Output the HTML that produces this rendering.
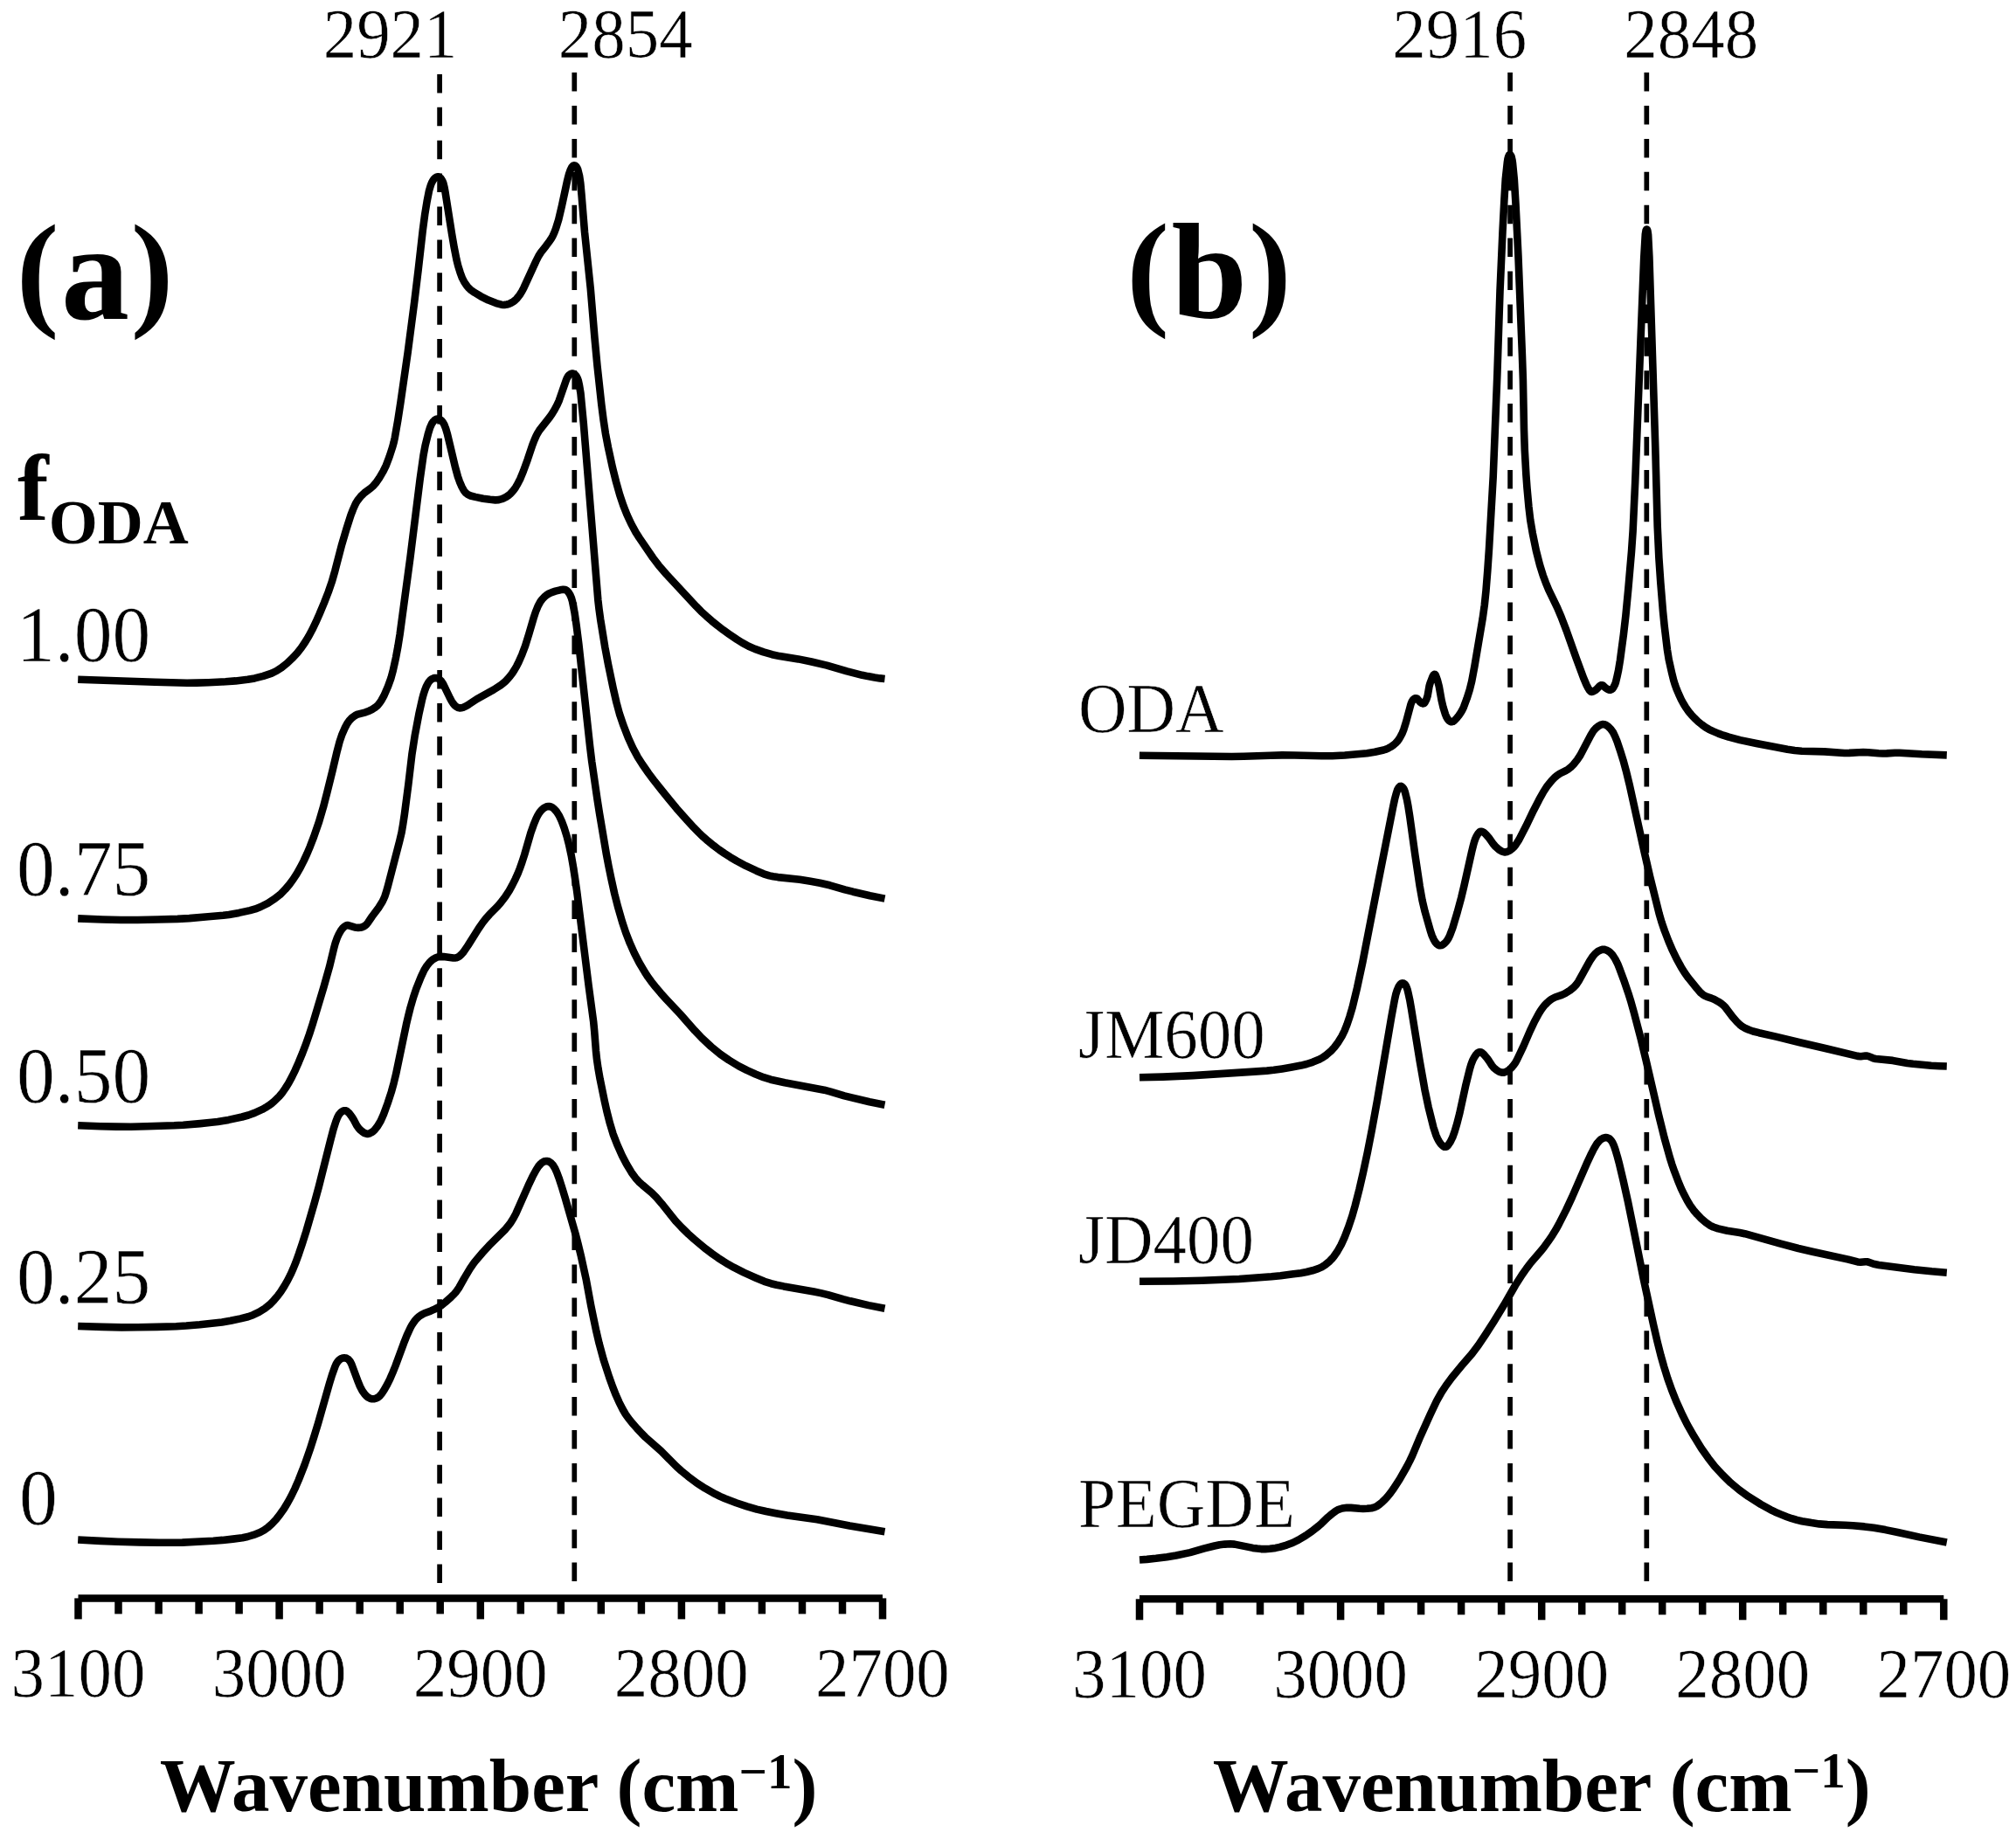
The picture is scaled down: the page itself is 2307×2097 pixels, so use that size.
<!DOCTYPE html>
<html><head><meta charset="utf-8"><title>FTIR spectra</title>
<style>
html,body{margin:0;padding:0;background:#fff;}
svg{display:block;filter:blur(0.7px);}
text{font-family:"Liberation Serif",serif;fill:#000;stroke:#fff;stroke-width:0.6;}
.b{stroke:none;}
.b{font-weight:bold;}
.c{fill:none;stroke:#000;stroke-width:8.6;stroke-linejoin:round;stroke-linecap:butt;}
</style></head><body>
<svg width="2307" height="2097" viewBox="0 0 2307 2097">
<rect width="2307" height="2097" fill="#fff"/>
<line x1="503.1" y1="84.9" x2="503.1" y2="1813" stroke="#000" stroke-width="5.7" stroke-dasharray="21.5 16.4"/>
<line x1="657.3" y1="83.1" x2="657.3" y2="1813" stroke="#000" stroke-width="5.7" stroke-dasharray="21.5 16.4"/>
<line x1="1728.1" y1="83.1" x2="1728.1" y2="1813" stroke="#000" stroke-width="5.7" stroke-dasharray="21.5 16.4"/>
<line x1="1884.3" y1="83.1" x2="1884.3" y2="1813" stroke="#000" stroke-width="5.7" stroke-dasharray="21.5 16.4"/>
<path class="c" d="M89.2,777.8 177.2,780.8 214.1,781.7 225.1,781.6 238.6,781.2 258.1,780.3 269.6,779.4 283.5,777.8 291.4,776.4 301.3,773.9 311.0,770.6 316.3,768.0 322.3,764.1 328.7,759.0 335.1,752.9 340.2,747.3 344.9,741.3 349.2,735.0 353.3,728.3 357.3,720.8 361.2,712.7 365.3,703.5 370.9,690.1 375.8,677.5 379.7,666.2 383.4,653.2 391.2,623.2 396.5,605.3 401.4,589.9 403.9,583.4 406.2,578.1 407.5,575.5 409.1,573.0 412.9,568.2 417.2,564.0 424.1,558.9 426.7,556.6 430.0,552.9 433.8,547.6 438.6,539.4 441.9,532.6 445.6,522.8 449.0,512.3 450.6,506.5 451.8,501.1 455.3,481.0 458.5,460.2 466.6,403.8 474.2,345.8 478.7,308.5 483.7,264.3 486.2,245.4 488.6,230.6 491.0,218.4 492.9,212.0 494.0,209.2 495.2,206.9 496.7,204.8 498.2,203.4 499.8,202.5 501.6,202.3 503.2,203.1 504.7,204.5 506.1,206.7 507.3,209.5 508.5,214.3 509.6,220.3 517.0,267.4 519.8,283.7 522.4,296.9 524.2,304.2 526.6,311.9 529.0,318.4 531.3,322.9 534.5,327.5 536.4,329.7 538.2,331.4 543.1,334.9 550.4,339.3 558.9,343.6 567.8,347.1 573.7,348.7 576.1,349.0 578.1,348.9 580.0,348.5 582.5,347.8 585.3,346.5 587.4,345.3 589.4,343.8 591.2,342.0 594.7,337.6 597.1,333.8 599.4,329.4 613.4,298.9 616.3,293.1 619.0,288.9 624.6,281.8 629.1,275.7 631.0,272.8 632.7,269.8 634.3,266.2 636.1,261.5 639.2,251.4 642.9,235.8 649.2,206.5 651.1,199.2 652.6,194.9 654.2,191.6 655.8,189.7 656.5,189.4 657.2,189.3 658.3,189.6 659.3,190.5 660.5,192.3 661.3,194.2 663.0,201.0 664.3,209.6 665.5,222.6 669.0,265.4 675.8,330.6 680.5,386.9 683.5,418.8 688.3,463.0 690.6,480.9 692.9,496.2 695.9,511.9 701.1,535.8 705.0,551.4 709.2,566.3 713.3,578.6 717.5,589.3 722.4,599.8 727.6,609.4 731.4,615.3 747.2,638.5 753.8,647.2 762.6,657.4 796.7,694.1 802.3,699.8 808.2,705.2 814.6,710.8 821.2,716.2 827.6,721.1 834.5,726.0 843.2,731.9 849.6,735.9 856.7,739.7 863.9,742.9 873.8,746.4 883.5,749.2 892.2,751.1 913.5,754.4 928.7,757.5 946.2,761.6 969.3,768.3 986.7,772.8 993.1,774.1 1000.9,775.5 1006.9,776.4 1012.5,777.0"/>
<path class="c" d="M89.2,1051.4 117.2,1052.5 138.2,1053.0 157.7,1053.0 180.7,1052.5 203.2,1051.9 216.7,1051.1 238.1,1049.3 255.5,1047.7 262.0,1046.9 273.4,1044.9 286.1,1042.1 292.2,1040.4 298.3,1038.0 306.6,1033.8 314.5,1028.7 320.6,1023.9 326.3,1018.1 331.0,1012.6 335.5,1006.5 339.5,1000.3 343.7,993.0 347.6,985.4 351.4,977.1 354.9,968.8 359.2,957.6 365.1,940.5 370.0,923.8 374.5,906.4 380.5,882.1 385.7,860.1 388.6,849.0 391.5,840.4 395.0,832.6 397.3,828.3 399.6,825.0 402.4,822.0 405.2,819.8 407.3,818.5 409.5,817.6 418.3,815.3 422.5,813.7 425.7,812.1 428.7,810.2 431.1,808.4 432.8,806.7 434.6,804.4 436.3,801.9 439.5,796.1 444.1,785.5 447.5,776.0 449.8,767.4 453.1,752.3 455.5,739.4 457.6,726.1 469.5,637.9 480.7,548.1 484.5,521.4 486.6,510.0 490.1,495.9 492.0,489.7 494.1,485.0 495.8,482.5 497.7,480.7 499.4,479.7 501.2,479.4 503.0,479.9 505.1,481.3 506.8,483.3 508.3,485.9 510.1,490.5 512.1,497.4 520.9,534.5 523.9,545.5 525.9,551.2 528.5,557.2 530.7,561.3 532.9,564.1 535.5,566.1 538.6,567.5 544.0,568.9 552.9,570.7 560.8,571.8 566.8,572.4 570.8,572.1 574.2,571.2 577.0,570.0 579.6,568.6 581.7,567.2 584.0,565.2 586.1,563.0 588.0,560.7 590.0,557.9 592.1,554.4 595.5,547.7 598.9,539.4 603.7,526.2 609.4,509.1 611.6,503.5 613.8,498.5 615.5,495.4 617.3,492.5 629.1,477.5 631.7,473.8 634.6,469.1 637.4,463.8 639.8,458.4 647.6,435.9 648.9,432.7 650.2,430.5 651.6,429.0 653.3,427.9 655.0,427.5 656.7,427.9 658.3,429.0 659.6,430.7 660.8,433.0 661.8,435.8 662.9,440.7 664.5,450.3 667.8,484.6 684.3,686.4 685.5,696.9 687.1,708.7 692.3,740.8 695.9,760.0 701.6,787.4 705.4,804.0 708.9,817.0 713.4,830.3 718.8,844.3 724.0,855.7 729.9,866.7 735.0,874.7 742.1,885.0 747.8,892.6 756.8,904.0 765.9,915.3 774.2,925.3 785.8,938.4 794.0,947.3 799.6,953.0 804.6,957.8 810.2,962.7 816.5,967.8 822.9,972.6 829.1,976.9 835.8,981.2 843.1,985.5 853.7,991.2 865.5,996.7 873.9,1000.3 880.5,1002.4 884.8,1003.3 890.2,1004.1 915.2,1006.8 927.5,1008.8 938.4,1010.7 949.5,1013.3 966.8,1018.3 976.0,1020.7 995.5,1025.2 1012.5,1028.6"/>
<path class="c" d="M89.2,1288.3 114.7,1289.2 133.2,1289.6 149.7,1289.7 168.2,1289.3 199.2,1288.3 209.7,1287.7 229.1,1286.1 242.0,1284.8 249.0,1284.0 261.4,1281.9 277.0,1278.5 284.2,1276.5 291.4,1273.9 300.1,1269.9 303.9,1267.8 307.2,1265.7 310.5,1263.4 313.6,1260.8 319.5,1255.0 323.3,1250.4 326.6,1245.6 330.3,1239.7 334.1,1232.6 337.9,1224.8 341.9,1215.7 346.1,1205.5 350.0,1195.2 354.0,1183.9 358.0,1171.5 370.5,1129.8 377.0,1106.7 381.8,1086.7 383.7,1079.5 385.7,1073.8 388.0,1068.8 390.1,1065.2 392.4,1062.2 394.4,1060.4 396.4,1059.3 397.7,1059.1 399.1,1059.3 405.9,1061.4 410.0,1061.9 412.6,1061.7 414.4,1061.3 416.1,1060.6 418.0,1059.4 419.4,1058.1 421.0,1056.1 425.8,1049.0 433.6,1038.6 437.8,1031.7 439.1,1029.0 440.4,1025.8 442.1,1020.6 444.0,1013.8 457.3,962.5 459.6,952.8 461.2,943.4 462.9,932.0 467.3,898.3 471.4,863.5 474.6,842.8 479.4,817.2 483.2,800.1 484.6,794.8 486.0,790.5 487.6,786.2 489.4,782.7 490.7,780.6 492.4,778.7 494.0,777.4 495.8,776.5 497.7,776.0 499.2,776.1 501.1,776.6 502.8,777.6 505.0,779.7 507.0,782.6 514.9,799.0 516.8,802.5 518.4,805.0 520.3,807.4 522.3,809.0 524.5,810.1 526.4,810.4 527.9,810.3 529.8,809.9 533.5,808.2 536.5,806.3 545.6,800.2 564.9,789.5 572.1,784.9 575.3,782.6 578.3,780.0 581.1,777.1 583.7,774.0 586.4,770.4 588.8,766.6 591.3,762.3 593.6,757.8 597.4,749.1 601.1,739.3 605.5,725.0 610.4,708.2 612.9,700.5 615.7,693.6 618.4,688.7 620.5,685.9 622.9,683.3 625.1,681.4 628.1,679.5 631.3,678.1 635.6,676.7 641.0,675.3 644.5,674.8 646.9,675.1 649.0,676.3 650.7,678.2 652.3,680.8 653.9,684.5 655.0,688.4 657.5,701.2 659.6,715.5 662.4,737.9 675.1,854.2 677.2,871.5 683.6,915.6 685.9,930.4 693.8,977.2 696.5,991.5 699.3,1005.2 703.3,1023.3 707.0,1037.8 712.0,1055.1 716.1,1067.5 721.0,1080.1 725.9,1091.0 731.4,1101.7 738.0,1112.9 741.5,1118.3 745.3,1123.6 750.0,1129.5 756.2,1136.8 762.5,1143.8 778.3,1160.6 795.2,1179.8 803.1,1188.1 813.7,1198.0 824.2,1206.6 834.0,1213.4 845.5,1220.4 854.9,1225.2 864.5,1229.5 873.8,1233.2 881.9,1235.7 898.0,1239.3 943.2,1247.7 950.5,1249.6 966.3,1254.3 974.6,1256.4 995.0,1261.2 1012.5,1264.7"/>
<path class="c" d="M89.2,1518.0 117.2,1518.9 139.2,1519.4 157.7,1519.3 179.7,1518.9 201.7,1518.2 213.2,1517.5 228.6,1516.2 254.0,1513.4 263.9,1511.8 275.2,1509.4 283.8,1507.3 289.5,1505.2 296.4,1501.8 303.2,1497.6 308.5,1493.4 313.4,1488.4 317.8,1483.3 321.7,1477.9 325.4,1472.1 329.1,1465.7 332.5,1458.9 335.6,1452.0 338.6,1444.6 342.0,1435.2 345.8,1423.8 350.2,1410.0 359.7,1377.3 364.8,1358.5 378.1,1305.6 381.5,1292.6 384.5,1283.3 386.0,1279.5 387.3,1276.9 388.4,1275.2 389.7,1273.7 390.9,1272.6 392.2,1271.8 393.6,1271.3 394.9,1271.2 395.8,1271.3 397.0,1271.9 399.3,1273.9 402.5,1278.1 404.4,1281.1 408.2,1288.3 410.5,1291.5 412.6,1293.7 414.7,1295.4 416.9,1296.9 418.7,1297.6 420.5,1297.9 421.9,1297.7 423.2,1297.3 425.0,1296.3 426.8,1295.1 428.7,1293.3 432.1,1289.0 435.7,1283.0 439.0,1275.5 443.6,1262.9 447.8,1250.0 450.6,1239.8 453.1,1229.6 464.9,1172.8 467.2,1163.1 469.6,1153.4 473.1,1141.4 476.3,1131.9 481.7,1118.4 485.5,1110.2 488.4,1105.6 491.6,1101.6 493.4,1099.9 495.3,1098.3 499.3,1096.0 502.2,1095.1 504.6,1094.9 507.6,1095.1 518.6,1096.5 520.6,1096.5 522.0,1096.3 523.9,1095.7 526.0,1094.3 528.2,1092.3 530.5,1089.6 535.6,1082.1 547.6,1063.0 552.7,1055.6 555.8,1051.7 560.1,1046.8 569.6,1037.2 572.9,1033.4 578.1,1026.7 582.7,1019.6 586.1,1013.4 589.9,1005.8 592.6,999.9 594.8,994.3 597.3,987.3 600.2,978.2 607.4,953.2 610.6,944.2 613.6,936.9 615.2,933.7 617.0,930.6 618.5,928.6 620.1,926.8 622.1,925.2 623.8,924.1 625.7,923.3 627.6,923.0 629.1,923.1 630.9,923.7 632.2,924.4 633.8,925.6 636.9,929.0 639.9,933.7 642.8,940.0 645.6,947.6 649.0,958.6 651.3,967.8 653.7,979.0 655.8,990.9 658.0,1005.2 660.2,1020.5 673.7,1128.7 679.2,1169.8 680.2,1180.3 682.0,1203.2 683.0,1212.7 684.5,1223.0 686.6,1234.9 691.8,1260.4 694.3,1271.6 698.0,1286.1 701.6,1298.1 706.1,1309.8 712.0,1323.0 717.1,1332.8 722.6,1341.9 727.2,1348.3 731.1,1352.7 735.2,1356.4 746.0,1365.5 751.0,1370.5 757.2,1377.7 768.7,1392.2 773.8,1398.4 779.9,1404.9 787.8,1412.6 794.1,1418.3 800.6,1423.8 808.0,1429.8 815.2,1435.2 821.7,1439.8 827.6,1443.7 833.1,1447.1 839.6,1450.7 851.3,1456.6 865.0,1462.7 874.7,1466.8 882.3,1469.2 888.6,1470.7 896.9,1472.4 931.4,1478.5 939.3,1480.1 947.5,1482.1 964.8,1487.1 973.1,1489.3 994.0,1494.1 1012.5,1497.8"/>
<path class="c" d="M89.2,1762.5 115.2,1763.9 135.1,1764.8 159.6,1765.4 182.1,1765.8 198.6,1765.8 208.6,1765.6 244.1,1763.8 254.6,1762.9 266.6,1761.6 277.4,1760.2 283.3,1759.0 290.2,1756.9 297.6,1754.0 302.2,1751.5 306.7,1748.3 311.3,1744.1 316.2,1738.9 320.7,1733.1 325.0,1727.0 329.2,1720.0 333.3,1712.5 337.4,1704.0 341.6,1694.4 348.6,1676.6 354.7,1659.2 359.4,1644.4 364.1,1629.1 376.9,1583.9 380.0,1573.8 383.4,1564.2 384.8,1561.1 386.4,1558.6 387.7,1557.1 389.3,1555.8 391.1,1554.8 392.5,1554.4 394.0,1554.2 395.4,1554.4 396.8,1554.9 398.5,1555.9 400.5,1558.1 402.3,1561.5 410.1,1582.4 412.0,1587.0 414.6,1591.9 417.5,1596.0 419.6,1598.2 421.6,1599.7 423.9,1600.8 425.8,1601.3 427.8,1601.3 430.2,1600.7 432.4,1599.6 434.3,1598.1 437.0,1595.0 439.8,1590.7 443.2,1584.6 446.3,1578.3 449.3,1571.4 452.5,1563.5 462.0,1537.7 465.7,1528.4 469.7,1519.8 471.6,1516.3 473.6,1513.3 475.4,1510.9 477.4,1508.8 479.7,1506.8 482.2,1505.1 485.7,1503.3 493.2,1500.4 497.8,1498.3 501.8,1496.3 505.2,1494.1 509.1,1491.0 516.2,1484.7 519.5,1481.5 521.8,1478.9 525.4,1473.7 531.3,1463.1 538.0,1451.9 540.8,1447.8 543.4,1444.2 552.2,1433.9 559.6,1425.8 578.4,1407.1 581.3,1403.6 584.3,1399.6 587.5,1394.5 590.3,1389.3 604.5,1357.2 609.4,1346.8 613.5,1339.3 616.2,1335.0 618.9,1332.0 620.5,1330.7 622.2,1329.7 623.7,1329.2 625.1,1329.0 626.5,1329.1 627.9,1329.5 630.5,1331.1 632.9,1333.7 635.2,1337.5 637.3,1342.2 639.6,1348.4 642.8,1358.3 646.6,1370.8 658.5,1412.2 661.4,1423.3 664.7,1436.9 670.6,1463.8 676.3,1494.7 679.2,1508.9 682.4,1524.1 685.6,1537.7 690.6,1556.1 697.2,1576.5 701.1,1587.4 704.8,1596.8 708.5,1605.1 712.5,1613.0 715.7,1618.5 719.1,1623.4 723.5,1628.9 728.9,1635.0 734.4,1640.9 738.6,1645.1 756.6,1661.0 774.2,1678.8 779.8,1683.7 787.2,1689.8 797.2,1697.4 806.8,1703.6 818.6,1710.2 824.0,1712.9 829.5,1715.3 842.5,1720.2 854.9,1724.4 866.0,1727.6 876.7,1730.0 888.0,1732.2 900.8,1734.4 935.0,1739.3 972.3,1746.5 1012.5,1753.3"/>
<path class="c" d="M1303.9,864.7 1409.4,866.0 1423.4,865.8 1453.9,864.7 1467.4,864.4 1481.4,864.5 1512.4,865.2 1524.4,865.3 1538.9,864.5 1564.3,862.2 1573.3,860.8 1583.4,858.5 1586.2,857.6 1589.0,856.3 1591.8,854.8 1594.7,852.7 1597.0,850.8 1598.9,848.8 1600.7,846.4 1602.3,843.8 1604.7,839.2 1606.5,834.6 1609.0,826.5 1614.5,806.0 1615.6,803.2 1617.1,801.0 1618.3,799.9 1619.1,799.4 1619.9,799.2 1620.7,799.2 1622.2,800.2 1625.4,803.9 1627.2,805.0 1628.5,805.4 1629.3,805.2 1630.0,804.8 1630.8,803.7 1632.3,800.7 1633.6,796.7 1635.6,785.3 1636.7,781.5 1639.5,774.4 1640.5,772.6 1641.5,771.8 1642.2,772.0 1643.0,773.2 1645.0,778.7 1646.8,785.8 1649.6,801.5 1651.6,809.9 1654.0,817.6 1655.3,820.8 1656.6,823.0 1658.0,824.7 1659.6,825.9 1660.9,826.3 1662.6,825.9 1664.7,824.4 1666.9,822.1 1669.5,818.9 1671.7,815.6 1673.5,812.5 1675.0,809.3 1678.6,799.6 1681.8,789.5 1684.2,779.7 1687.5,762.1 1696.6,708.3 1698.8,692.5 1700.5,676.0 1702.3,653.1 1704.0,628.2 1708.7,545.8 1713.4,427.4 1716.5,333.4 1719.5,265.0 1721.4,228.5 1722.8,204.6 1724.8,186.2 1725.4,182.2 1726.2,179.2 1727.0,177.4 1727.8,176.9 1728.6,177.4 1729.5,179.1 1730.4,182.7 1731.0,186.7 1732.8,205.1 1734.5,233.5 1737.4,292.0 1741.9,405.9 1742.9,434.9 1744.0,491.8 1744.8,515.3 1746.4,543.8 1747.5,558.8 1749.4,579.7 1751.2,595.0 1753.8,610.3 1757.9,630.4 1762.1,646.9 1765.7,658.4 1768.8,666.8 1772.2,675.2 1782.2,695.9 1786.5,706.0 1792.4,721.4 1803.6,753.0 1812.1,776.0 1815.4,783.8 1817.3,787.5 1818.8,789.9 1819.8,791.1 1820.9,791.8 1821.7,791.9 1822.9,791.6 1826.1,789.7 1827.7,788.3 1830.8,785.1 1831.9,784.4 1832.6,784.2 1833.4,784.3 1834.2,784.6 1837.4,787.4 1838.7,788.4 1840.2,789.1 1841.6,789.6 1842.9,789.6 1844.1,789.2 1845.2,788.3 1846.5,786.6 1847.8,784.1 1848.9,781.2 1850.5,774.5 1852.1,767.1 1853.9,756.1 1857.9,726.4 1860.4,704.5 1863.4,673.2 1867.0,631.3 1868.6,607.9 1871.2,551.9 1877.4,391.6 1881.2,295.6 1882.8,268.2 1883.6,263.6 1884.1,262.6 1884.5,262.5 1884.9,262.9 1885.4,264.1 1886.1,268.7 1887.4,294.2 1894.3,512.6 1896.7,602.6 1898.4,639.0 1900.3,666.9 1903.0,699.8 1904.7,716.8 1907.9,743.6 1909.7,754.9 1913.1,770.1 1915.1,778.3 1916.7,783.6 1918.6,788.8 1921.0,794.4 1923.9,800.7 1926.5,805.5 1929.1,809.8 1932.4,814.4 1935.6,818.3 1939.2,822.2 1943.2,826.0 1947.6,829.5 1951.7,832.5 1955.6,834.8 1960.0,836.9 1966.4,839.6 1972.1,841.7 1978.3,843.7 1991.4,847.1 2010.0,851.0 2045.4,857.8 2053.8,859.0 2061.8,859.7 2087.8,860.4 2110.7,862.0 2116.2,861.9 2127.2,861.2 2132.2,861.0 2137.7,861.2 2149.7,862.2 2154.7,862.5 2159.1,862.4 2168.6,861.7 2173.6,861.7 2199.1,863.3 2227.8,864.4"/>
<path class="c" d="M1304.0,1233.3 1331.0,1232.6 1365.0,1231.1 1435.3,1226.6 1449.8,1225.6 1457.7,1224.8 1467.2,1223.4 1478.5,1221.5 1488.8,1219.6 1495.2,1218.0 1502.0,1215.8 1508.8,1213.1 1513.2,1210.8 1517.8,1207.6 1522.8,1203.3 1527.1,1198.6 1531.6,1192.6 1535.6,1186.0 1538.5,1180.1 1541.4,1172.8 1544.6,1163.3 1547.6,1153.2 1553.1,1130.4 1559.3,1101.5 1576.2,1014.6 1594.2,923.3 1596.1,914.5 1597.7,908.5 1599.3,903.7 1600.8,901.2 1602.1,900.1 1603.2,899.9 1604.7,900.7 1606.0,902.2 1607.0,904.2 1607.9,906.7 1610.0,915.3 1611.5,923.3 1613.3,934.8 1619.4,978.9 1624.7,1014.5 1627.6,1030.7 1630.6,1043.4 1636.9,1065.7 1638.7,1071.0 1640.5,1075.1 1642.5,1078.5 1644.6,1080.8 1645.9,1081.7 1647.2,1082.2 1648.0,1082.3 1649.4,1082.1 1651.1,1081.3 1652.8,1080.1 1654.7,1078.1 1656.3,1076.0 1657.8,1073.5 1659.2,1070.4 1662.3,1062.3 1667.6,1044.5 1672.3,1027.1 1675.3,1014.4 1684.2,974.7 1685.9,967.9 1687.2,963.2 1688.4,959.8 1689.9,956.7 1691.4,954.3 1693.0,952.4 1694.4,951.7 1695.9,951.7 1697.8,952.7 1700.2,954.9 1703.5,958.6 1709.1,966.4 1711.4,969.1 1715.3,972.5 1718.8,974.7 1721.5,975.4 1722.9,975.4 1724.3,975.1 1727.6,973.6 1730.6,971.4 1732.7,969.2 1734.5,967.0 1738.3,961.1 1746.2,945.8 1754.9,927.7 1761.1,915.7 1766.2,906.5 1770.8,899.4 1775.9,893.2 1778.8,890.3 1781.4,888.0 1785.0,885.5 1791.9,882.1 1794.4,880.6 1797.5,878.2 1800.7,875.0 1804.8,869.9 1808.4,864.5 1820.3,841.8 1823.4,836.6 1826.1,833.6 1829.0,831.2 1831.7,829.7 1833.1,829.3 1834.4,829.1 1835.8,829.2 1837.1,829.6 1838.4,830.3 1840.2,831.5 1843.2,834.5 1846.1,838.6 1848.2,843.0 1850.5,848.7 1854.2,859.7 1857.5,870.2 1860.8,882.3 1864.5,897.4 1881.5,974.5 1888.2,1003.8 1898.7,1046.0 1901.5,1055.6 1904.9,1065.5 1909.6,1077.7 1914.1,1088.2 1918.7,1097.7 1923.8,1106.9 1927.7,1113.2 1932.1,1119.4 1941.9,1131.5 1945.9,1136.1 1948.5,1138.3 1951.0,1139.9 1953.2,1140.9 1958.5,1142.6 1961.8,1144.0 1966.2,1146.4 1970.0,1148.9 1972.2,1150.8 1974.3,1152.9 1982.4,1163.7 1987.5,1169.5 1991.1,1173.0 1993.8,1175.1 1997.2,1177.0 2001.3,1178.8 2006.1,1180.5 2012.9,1182.2 2032.4,1186.6 2059.6,1193.3 2089.8,1200.2 2125.8,1208.9 2129.3,1209.2 2134.7,1208.5 2136.6,1208.6 2138.5,1209.1 2143.6,1211.3 2146.4,1212.0 2165.9,1213.9 2182.7,1216.9 2189.1,1217.8 2210.0,1219.7 2219.0,1220.2 2227.8,1220.5"/>
<path class="c" d="M1304.0,1466.7 1343.0,1466.5 1375.5,1465.8 1418.0,1464.0 1454.9,1461.3 1465.3,1460.3 1478.2,1458.6 1488.6,1457.2 1495.1,1456.0 1502.0,1454.3 1508.5,1452.2 1512.5,1450.4 1516.4,1447.9 1521.6,1443.6 1524.0,1441.1 1526.2,1438.5 1530.4,1432.5 1534.7,1424.9 1538.7,1416.1 1543.1,1404.6 1547.3,1392.2 1550.7,1380.1 1555.4,1361.7 1559.9,1342.2 1564.9,1318.8 1569.9,1293.2 1576.1,1259.3 1592.2,1164.6 1596.0,1144.0 1597.3,1138.1 1598.9,1133.1 1600.5,1129.4 1602.2,1126.9 1603.7,1125.7 1604.9,1125.4 1606.1,1125.6 1607.6,1126.6 1608.8,1128.3 1609.7,1130.3 1610.6,1132.7 1611.6,1137.0 1613.2,1144.3 1614.9,1153.9 1624.7,1214.6 1630.5,1247.6 1634.6,1267.2 1640.4,1290.5 1643.4,1299.6 1645.0,1303.3 1646.7,1306.4 1648.6,1309.2 1650.9,1311.5 1652.9,1312.7 1654.4,1312.8 1655.4,1312.4 1656.8,1311.2 1659.4,1307.6 1662.1,1302.2 1664.6,1295.2 1667.2,1286.5 1670.2,1274.8 1677.0,1243.6 1681.8,1224.0 1683.5,1218.3 1685.1,1214.1 1687.2,1210.1 1689.1,1207.2 1690.9,1205.3 1692.7,1204.3 1694.2,1204.2 1696.0,1205.1 1698.3,1207.2 1701.9,1211.5 1704.0,1214.5 1707.3,1219.6 1709.1,1221.9 1712.2,1224.6 1715.8,1226.8 1718.6,1227.6 1720.0,1227.7 1721.4,1227.6 1722.7,1227.1 1724.6,1226.3 1727.6,1224.1 1729.9,1221.9 1732.1,1219.3 1734.1,1216.5 1736.0,1213.0 1743.2,1197.9 1751.0,1179.9 1755.9,1169.5 1760.9,1160.2 1763.2,1156.4 1765.5,1153.2 1768.1,1150.1 1770.6,1147.6 1773.3,1145.2 1775.7,1143.5 1779.6,1141.5 1787.3,1138.9 1791.0,1137.2 1796.6,1133.7 1800.9,1130.2 1803.8,1127.0 1806.3,1123.4 1819.3,1099.9 1822.9,1094.5 1825.5,1091.5 1828.7,1088.9 1832.0,1087.3 1833.4,1086.9 1834.8,1086.8 1836.2,1086.9 1838.1,1087.5 1840.0,1088.4 1842.2,1089.9 1843.7,1091.3 1845.3,1093.1 1848.2,1097.5 1851.0,1102.9 1853.7,1109.7 1858.9,1123.8 1863.4,1137.1 1866.5,1147.1 1870.0,1159.6 1877.6,1188.7 1883.6,1213.4 1898.1,1276.3 1904.6,1302.5 1910.9,1325.1 1913.3,1332.8 1916.1,1340.8 1920.0,1351.1 1923.8,1360.3 1927.3,1367.6 1930.8,1374.3 1934.1,1379.8 1937.9,1385.1 1942.2,1390.1 1946.7,1394.7 1952.0,1399.3 1956.6,1402.6 1960.6,1404.5 1966.2,1406.4 1976.5,1408.8 1990.9,1411.0 1996.7,1412.2 2037.7,1423.6 2058.0,1429.0 2074.1,1432.7 2115.1,1441.6 2125.8,1444.4 2129.2,1444.8 2134.6,1444.2 2136.6,1444.3 2138.5,1444.7 2144.1,1446.8 2150.0,1447.9 2190.7,1453.2 2210.6,1455.3 2227.8,1456.7"/>
<path class="c" d="M1304.0,1785.5 1312.5,1784.9 1322.9,1783.8 1335.3,1782.2 1345.7,1780.5 1361.8,1777.1 1378.2,1772.4 1389.8,1769.5 1395.7,1768.3 1401.7,1767.6 1407.7,1767.3 1412.7,1767.6 1433.8,1771.9 1438.7,1772.6 1443.2,1773.1 1447.7,1773.1 1453.2,1772.7 1459.6,1771.9 1464.5,1770.9 1472.3,1768.6 1479.2,1766.0 1485.9,1762.6 1494.1,1757.7 1501.1,1752.9 1508.6,1747.0 1512.4,1743.7 1519.6,1736.7 1524.2,1732.9 1528.7,1729.5 1531.8,1727.8 1536.0,1726.5 1541.4,1725.8 1546.0,1725.9 1555.9,1726.8 1559.9,1727.0 1564.5,1726.8 1569.5,1726.2 1572.8,1725.4 1575.5,1724.1 1578.4,1722.1 1581.9,1719.2 1584.8,1716.4 1587.8,1713.1 1591.3,1708.7 1594.8,1703.9 1601.6,1693.4 1609.8,1679.0 1613.2,1672.4 1616.2,1666.1 1625.5,1643.9 1636.4,1619.7 1643.9,1603.9 1649.5,1593.9 1654.7,1586.0 1661.5,1576.7 1673.0,1562.8 1684.4,1549.6 1691.9,1539.6 1700.0,1527.5 1709.7,1512.4 1721.2,1493.6 1733.9,1471.5 1741.7,1459.3 1746.9,1451.9 1751.7,1445.5 1762.8,1432.6 1766.6,1428.0 1771.6,1421.1 1776.4,1414.1 1780.1,1408.1 1783.7,1401.6 1792.1,1385.1 1799.1,1370.1 1816.7,1329.8 1821.0,1320.7 1824.2,1314.4 1827.6,1308.8 1830.5,1305.5 1832.4,1303.9 1834.2,1302.9 1836.1,1302.3 1837.6,1302.1 1839.5,1302.3 1841.7,1303.4 1843.8,1305.5 1845.4,1308.1 1846.9,1311.3 1848.5,1316.0 1850.9,1324.1 1853.1,1332.4 1857.5,1350.9 1863.0,1375.8 1870.3,1411.6 1880.8,1464.1 1892.1,1516.4 1896.6,1535.9 1900.6,1551.8 1904.3,1564.8 1908.5,1578.2 1913.0,1590.9 1918.0,1603.5 1925.0,1619.0 1930.8,1630.6 1938.5,1644.1 1946.9,1657.7 1954.7,1668.8 1962.3,1678.6 1971.1,1688.2 1980.5,1697.3 1990.1,1705.2 2000.7,1712.9 2015.1,1722.0 2026.0,1728.1 2031.4,1730.7 2038.3,1733.6 2044.8,1736.2 2050.5,1738.2 2056.3,1739.9 2062.1,1741.2 2072.9,1743.1 2081.9,1744.4 2091.3,1745.1 2111.3,1745.7 2120.3,1746.2 2133.3,1747.4 2144.2,1748.7 2157.5,1751.1 2171.7,1754.0 2196.1,1759.4 2227.8,1765.5"/>
<line x1="89.5" y1="1829.4" x2="1010.0" y2="1829.4" stroke="#000" stroke-width="8.5"/>
<line x1="89.5" y1="1829.4" x2="89.5" y2="1853.4" stroke="#000" stroke-width="8.5"/>
<line x1="135.5" y1="1829.4" x2="135.5" y2="1847.4" stroke="#000" stroke-width="8.5"/>
<line x1="181.6" y1="1829.4" x2="181.6" y2="1847.4" stroke="#000" stroke-width="8.5"/>
<line x1="227.6" y1="1829.4" x2="227.6" y2="1847.4" stroke="#000" stroke-width="8.5"/>
<line x1="273.6" y1="1829.4" x2="273.6" y2="1847.4" stroke="#000" stroke-width="8.5"/>
<line x1="319.6" y1="1829.4" x2="319.6" y2="1853.4" stroke="#000" stroke-width="8.5"/>
<line x1="365.6" y1="1829.4" x2="365.6" y2="1847.4" stroke="#000" stroke-width="8.5"/>
<line x1="411.7" y1="1829.4" x2="411.7" y2="1847.4" stroke="#000" stroke-width="8.5"/>
<line x1="457.7" y1="1829.4" x2="457.7" y2="1847.4" stroke="#000" stroke-width="8.5"/>
<line x1="503.7" y1="1829.4" x2="503.7" y2="1847.4" stroke="#000" stroke-width="8.5"/>
<line x1="549.8" y1="1829.4" x2="549.8" y2="1853.4" stroke="#000" stroke-width="8.5"/>
<line x1="595.8" y1="1829.4" x2="595.8" y2="1847.4" stroke="#000" stroke-width="8.5"/>
<line x1="641.8" y1="1829.4" x2="641.8" y2="1847.4" stroke="#000" stroke-width="8.5"/>
<line x1="687.8" y1="1829.4" x2="687.8" y2="1847.4" stroke="#000" stroke-width="8.5"/>
<line x1="733.9" y1="1829.4" x2="733.9" y2="1847.4" stroke="#000" stroke-width="8.5"/>
<line x1="779.9" y1="1829.4" x2="779.9" y2="1853.4" stroke="#000" stroke-width="8.5"/>
<line x1="825.9" y1="1829.4" x2="825.9" y2="1847.4" stroke="#000" stroke-width="8.5"/>
<line x1="871.9" y1="1829.4" x2="871.9" y2="1847.4" stroke="#000" stroke-width="8.5"/>
<line x1="918.0" y1="1829.4" x2="918.0" y2="1847.4" stroke="#000" stroke-width="8.5"/>
<line x1="964.0" y1="1829.4" x2="964.0" y2="1847.4" stroke="#000" stroke-width="8.5"/>
<line x1="1010.0" y1="1829.4" x2="1010.0" y2="1853.4" stroke="#000" stroke-width="8.5"/>
<line x1="1304.0" y1="1830.3" x2="2224.3" y2="1830.3" stroke="#000" stroke-width="8.5"/>
<line x1="1304.0" y1="1830.3" x2="1304.0" y2="1854.3" stroke="#000" stroke-width="8.5"/>
<line x1="1350.0" y1="1830.3" x2="1350.0" y2="1848.3" stroke="#000" stroke-width="8.5"/>
<line x1="1396.0" y1="1830.3" x2="1396.0" y2="1848.3" stroke="#000" stroke-width="8.5"/>
<line x1="1442.0" y1="1830.3" x2="1442.0" y2="1848.3" stroke="#000" stroke-width="8.5"/>
<line x1="1488.1" y1="1830.3" x2="1488.1" y2="1848.3" stroke="#000" stroke-width="8.5"/>
<line x1="1534.1" y1="1830.3" x2="1534.1" y2="1854.3" stroke="#000" stroke-width="8.5"/>
<line x1="1580.1" y1="1830.3" x2="1580.1" y2="1848.3" stroke="#000" stroke-width="8.5"/>
<line x1="1626.1" y1="1830.3" x2="1626.1" y2="1848.3" stroke="#000" stroke-width="8.5"/>
<line x1="1672.1" y1="1830.3" x2="1672.1" y2="1848.3" stroke="#000" stroke-width="8.5"/>
<line x1="1718.1" y1="1830.3" x2="1718.1" y2="1848.3" stroke="#000" stroke-width="8.5"/>
<line x1="1764.2" y1="1830.3" x2="1764.2" y2="1854.3" stroke="#000" stroke-width="8.5"/>
<line x1="1810.2" y1="1830.3" x2="1810.2" y2="1848.3" stroke="#000" stroke-width="8.5"/>
<line x1="1856.2" y1="1830.3" x2="1856.2" y2="1848.3" stroke="#000" stroke-width="8.5"/>
<line x1="1902.2" y1="1830.3" x2="1902.2" y2="1848.3" stroke="#000" stroke-width="8.5"/>
<line x1="1948.2" y1="1830.3" x2="1948.2" y2="1848.3" stroke="#000" stroke-width="8.5"/>
<line x1="1994.2" y1="1830.3" x2="1994.2" y2="1854.3" stroke="#000" stroke-width="8.5"/>
<line x1="2040.2" y1="1830.3" x2="2040.2" y2="1848.3" stroke="#000" stroke-width="8.5"/>
<line x1="2086.3" y1="1830.3" x2="2086.3" y2="1848.3" stroke="#000" stroke-width="8.5"/>
<line x1="2132.3" y1="1830.3" x2="2132.3" y2="1848.3" stroke="#000" stroke-width="8.5"/>
<line x1="2178.3" y1="1830.3" x2="2178.3" y2="1848.3" stroke="#000" stroke-width="8.5"/>
<line x1="2224.3" y1="1830.3" x2="2224.3" y2="1854.3" stroke="#000" stroke-width="8.5"/>
<text transform="translate(89.5,1942.4) scale(0.968,1)" font-size="79.5" text-anchor="middle" class="">3100</text>
<text transform="translate(1304.0,1943.0) scale(0.968,1)" font-size="79.5" text-anchor="middle" class="">3100</text>
<text transform="translate(319.6,1942.4) scale(0.968,1)" font-size="79.5" text-anchor="middle" class="">3000</text>
<text transform="translate(1534.1,1943.0) scale(0.968,1)" font-size="79.5" text-anchor="middle" class="">3000</text>
<text transform="translate(549.7,1942.4) scale(0.968,1)" font-size="79.5" text-anchor="middle" class="">2900</text>
<text transform="translate(1764.2,1943.0) scale(0.968,1)" font-size="79.5" text-anchor="middle" class="">2900</text>
<text transform="translate(779.8,1942.4) scale(0.968,1)" font-size="79.5" text-anchor="middle" class="">2800</text>
<text transform="translate(1994.3,1943.0) scale(0.968,1)" font-size="79.5" text-anchor="middle" class="">2800</text>
<text transform="translate(1009.9,1942.4) scale(0.968,1)" font-size="79.5" text-anchor="middle" class="">2700</text>
<text transform="translate(2224.4,1943.0) scale(0.968,1)" font-size="79.5" text-anchor="middle" class="">2700</text>
<text transform="translate(446.6,66.2) scale(0.968,1)" font-size="79.5" text-anchor="middle" class="">2921</text>
<text transform="translate(715.7,66.2) scale(0.968,1)" font-size="79.5" text-anchor="middle" class="">2854</text>
<text transform="translate(1670.2,66.2) scale(0.968,1)" font-size="79.5" text-anchor="middle" class="">2916</text>
<text transform="translate(1935.3,66.2) scale(0.968,1)" font-size="79.5" text-anchor="middle" class="">2848</text>
<text transform="translate(19,757.0) scale(0.968,1)" font-size="90.5" text-anchor="start" class="">1.00</text>
<text transform="translate(19,1024.8) scale(0.968,1)" font-size="90.5" text-anchor="start" class="">0.75</text>
<text transform="translate(19,1261.8) scale(0.968,1)" font-size="90.5" text-anchor="start" class="">0.50</text>
<text transform="translate(19,1491.8) scale(0.968,1)" font-size="90.5" text-anchor="start" class="">0.25</text>
<text transform="translate(22,1745.3) scale(0.968,1)" font-size="90.5" text-anchor="start" class="">0</text>
<text transform="translate(1234,838) scale(0.968,1)" font-size="79.5" text-anchor="start" class="">ODA</text>
<text transform="translate(1234,1210.5) scale(0.968,1)" font-size="79.5" text-anchor="start" class="">JM600</text>
<text transform="translate(1234,1446.3) scale(0.968,1)" font-size="79.5" text-anchor="start" class="">JD400</text>
<text transform="translate(1234,1748.2) scale(0.968,1)" font-size="79.5" text-anchor="start" class="">PEGDE</text>
<text class="b" font-size="156"><tspan x="18.70" y="357.6" font-size="146">(</tspan><tspan x="69.95" y="364.5">a</tspan><tspan x="149.75" y="357.6" font-size="146">)</tspan></text>
<text class="b" font-size="156"><tspan x="1289.20" y="357.1" font-size="146">(</tspan><tspan x="1340.45" y="364.0">b</tspan><tspan x="1428.99" y="357.1" font-size="146">)</tspan></text>
<text x="20" y="595" font-size="107" class="b">f<tspan font-size="72" dy="27">ODA</tspan></text>
<text x="182.7" y="2073.4" font-size="87" class="b" text-anchor="start">Wavenumber (cm<tspan font-size="57" dy="-26.6">−1</tspan><tspan dy="26.6">)</tspan></text>
<text x="1387.8" y="2072.5" font-size="87" class="b" text-anchor="start">Wavenumber (cm<tspan font-size="57" dy="-26.6">−1</tspan><tspan dy="26.6">)</tspan></text>
</svg></body></html>
